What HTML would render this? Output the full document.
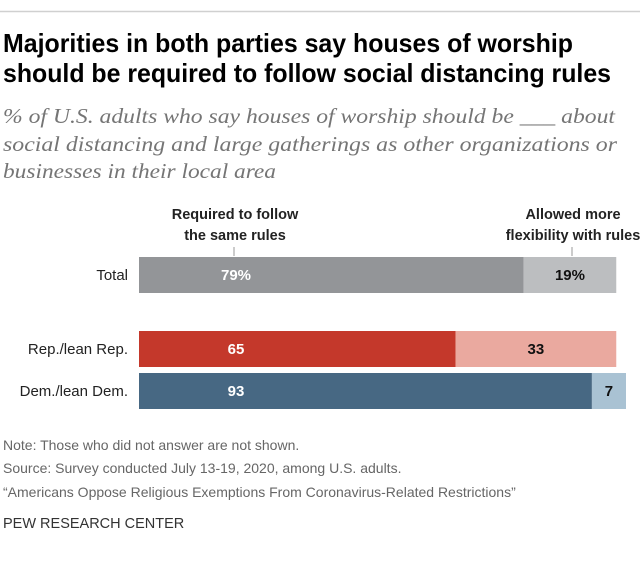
<!DOCTYPE html>
<html><head><meta charset="utf-8"><style>
html,body{margin:0;padding:0;background:#fff;}
svg{display:block;}
</style></head><body>
<svg width="640" height="572" viewBox="0 0 640 572" font-family="'Liberation Sans', sans-serif">
<line x1="0" y1="11.5" x2="640" y2="11.5" stroke="#d0d0d0" stroke-width="1.5"/>
<text x="3" y="52" font-size="26" font-weight="bold" fill="#000" textLength="570" lengthAdjust="spacingAndGlyphs">Majorities in both parties say houses of worship</text>
<text x="3" y="82" font-size="26" font-weight="bold" fill="#000" textLength="608" lengthAdjust="spacingAndGlyphs">should be required to follow social distancing rules</text>
<g font-family="'Liberation Serif', serif" font-style="italic" font-size="21" fill="#757575">
<text x="3" y="123" textLength="612" lengthAdjust="spacingAndGlyphs">% of U.S. adults who say houses of worship should be ___ about</text>
<text x="3" y="151" textLength="614" lengthAdjust="spacingAndGlyphs">social distancing and large gatherings as other organizations or</text>
<text x="3" y="178" textLength="273" lengthAdjust="spacingAndGlyphs">businesses in their local area</text>
</g>
<g id="bars"></g>
<g font-size="14" fill="#666">
<text x="3" y="450">Note: Those who did not answer are not shown.</text>
<text x="3" y="473">Source: Survey conducted July 13-19, 2020, among U.S. adults.</text>
<text x="3" y="497">“Americans Oppose Religious Exemptions From Coronavirus-Related Restrictions”</text>
<text x="3" y="528" fill="#333" font-size="14.5">PEW RESEARCH CENTER</text>
</g>
</svg>
<script>
const categories = ["Total", "Rep./lean Rep.", "Dem./lean Dem."];
const requiredValues = [79, 65, 93];
const allowedValues = [19, 33, 7];
const valueLabels1 = ["79%", "65", "93"];
const valueLabels2 = ["19%", "33", "7"];
const seriesNames = ["Required to follow|the same rules", "Allowed more|flexibility with rules"];

const NS = "http://www.w3.org/2000/svg";
const g = document.getElementById("bars");
const x0 = 139, scale = 4.87;
const xPos = v => x0 + v * scale;
const rowY = [257, 331, 373];
const bh = 36;
const c1 = ["#939598", "#c4382b", "#476883"];
const c2 = ["#bcbec0", "#eaa99f", "#a9c2d3"];
function mk(tag, attrs) { const e = document.createElementNS(NS, tag); for (const k in attrs) e.setAttribute(k, attrs[k]); g.appendChild(e); return e; }

const hx = [235, 573];
seriesNames.forEach((s, i) => {
  s.split("|").forEach((line, j) => {
    const t = mk("text", {x: hx[i], y: 219 + j * 21, "text-anchor": "middle", "font-size": "14.5", "font-weight": "bold", fill: "#222"});
    
    
    t.textContent = line;
  });
  const l = mk("line", {x1: hx[i] - 1, x2: hx[i] - 1, y1: 247, y2: 256, stroke: "#999"});
  
  
});

categories.forEach((c, i) => {
  const y = rowY[i];
  const lab = mk("text", {x: 128, y: y + bh / 2 + 5, "text-anchor": "end", "font-size": "15", fill: "#222"});
  
  
  lab.textContent = c;
  const xa = xPos(0), xb = xPos(requiredValues[i]), xc = xPos(requiredValues[i] + allowedValues[i]);
  const r1 = mk("rect", {x: xa, y: y, width: xb - xa, height: bh, fill: c1[i]});
  
  
  const r2 = mk("rect", {x: xb, y: y, width: xc - xb, height: bh, fill: c2[i]});
  
  
  const t1 = mk("text", {x: 236, y: y + bh / 2 + 5, "text-anchor": "middle", "font-size": "15", "font-weight": "bold", fill: "#fff"});
  
  
  t1.textContent = valueLabels1[i];
  const t2 = mk("text", {x: (xb + xc) / 2, y: y + bh / 2 + 5, "text-anchor": "middle", "font-size": "15", "font-weight": "bold", fill: "#111"});
  
  
  t2.textContent = valueLabels2[i];
});
</script>
</body></html>
